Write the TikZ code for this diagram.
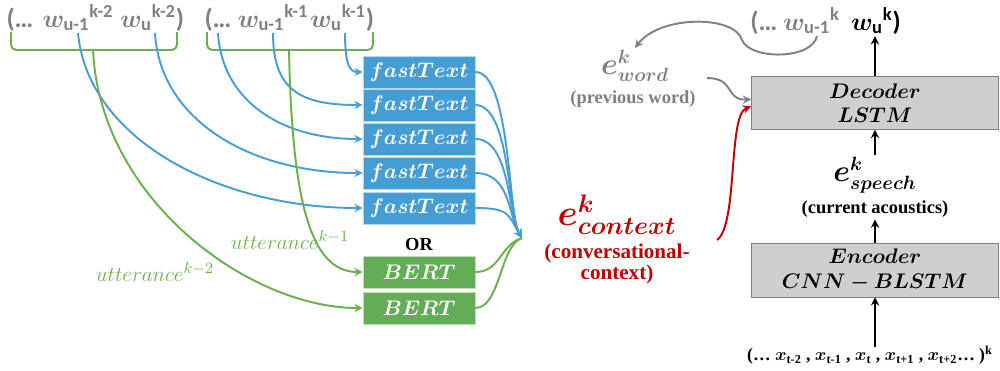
\documentclass[tikz,border=0pt]{standalone}
\usepackage{amsmath}
\usepackage{bm}
\usepackage{fontspec}
\setmainfont{Liberation Serif}
\newfontfamily\carlito{Carlito}
\usetikzlibrary{arrows, calc}
\definecolor{ftblue}{RGB}{68,157,211}
\definecolor{lineblue}{RGB}{72,158,212}
\definecolor{bertgreen}{RGB}{99,173,86}
\definecolor{linegreen}{RGB}{106,176,76}
\definecolor{wgray}{RGB}{128,128,128}
\definecolor{boxgray}{RGB}{208,206,206}
\definecolor{ctxred}{RGB}{192,0,0}
\newcommand{\wsub}[1]{\text{\carlito\bfseries #1}}
\newcommand{\wrd}[2]{$\bm{w}_{\wsub{#1}}{}^{\wsub{#2}}$}
\tikzset{>=stealth,
  wtok/.style={text=wgray, font=\fontsize{15}{18}\selectfont\carlito\bfseries, inner sep=1pt, anchor=base},
  ftbox/.style={draw=white!60!ftblue, fill=ftblue, text=white, minimum width=2.24cm, minimum height=0.64cm, font=\fontsize{12}{14}\selectfont},
  bertbox/.style={ftbox, draw=white!60!bertgreen, fill=bertgreen},
  nnbox/.style={draw=gray, fill=boxgray, minimum width=4.94cm, minimum height=1.06cm, align=center, font=\fontsize{12}{14}\selectfont},
  elab/.style={font=\fontsize{16}{18}\selectfont, inner sep=1pt},
  desc/.style={font=\fontsize{10.5}{12}\selectfont\bfseries, inner sep=1pt},
  utt/.style={text=linegreen, font=\fontsize{13}{15}\selectfont, inner sep=1pt},
  bluearc/.style={lineblue, line width=1.1pt},
  greenarc/.style={linegreen, line width=1.1pt},
  brk/.style={linegreen, line width=1.1pt, rounded corners=3pt},
  grayarc/.style={wgray, line width=1.1pt, ->},
  blackarr/.style={black, line width=1.1pt, ->}}
\begin{document}
\begin{tikzpicture}[x=0.02cm, y=-0.02cm]
\useasboundingbox (0,0) rectangle (1000,370);

% previous utterances
\node[wtok] (pa) at (20,27) {(…};
\node[wtok] (wa1) at (78,27) {\wrd{u-1}{k-2}};
\node[wtok] (wa2) at (148,27) {\wrd{u}{k-2}};
\node[wtok] (pa2) at (180,27) {)};
\node[wtok] (pb) at (218,27) {(…};
\node[wtok] (wb1) at (273,27) {\wrd{u-1}{k-1}};
\node[wtok] (wb2) at (338,27) {\wrd{u}{k-1}};
\node[wtok] (pb2) at (370,27) {)};

\draw[brk] (11,32) |- (177,50) -- (177,32);
\coordinate (utt2) at (93,50);
\draw[brk] (207,32) |- (373,50) -- (373,32);
\coordinate (utt1) at (289,50);

% embedders
\node[ftbox] (ft1) at (419,72) {$\bm{fastText}$};
\node[ftbox] (ft2) at (419,105) {$\bm{fastText}$};
\node[ftbox] (ft3) at (419,139) {$\bm{fastText}$};
\node[ftbox] (ft4) at (419,173) {$\bm{fastText}$};
\node[ftbox] (ft5) at (419,208) {$\bm{fastText}$};
\node[desc] (orlab) at (419,244) {OR};
\node[bertbox] (bert1) at (419,272) {$\bm{BERT}$};
\node[bertbox] (bert2) at (419,308) {$\bm{BERT}$};

\draw[bluearc,->] ($(wb2.south)+(7,0)$) .. controls (345,65) and (350,72) .. (ft1.west);
\draw[bluearc,->] (wb1.south) .. controls (273,90) and (300,105) .. (ft2.west);
\draw[bluearc,->] (pb.south) .. controls (222,100) and (280,139) .. (ft3.west);
\draw[bluearc,->] ($(wa2.south)+(7,0)$) .. controls (160,120) and (250,173) .. (ft4.west);
\draw[bluearc,->] (wa1.south) .. controls (88,140) and (220,208) .. (ft5.west);

\draw[greenarc,->] (utt1) .. controls (292,200) and (310,272) .. (bert1.west);
\draw[greenarc,->] (utt2) .. controls (100,200) and (250,308) .. (bert2.west);
\node[utt] (uttlab1) at (290,240) {$utterance^{k-1}$};
\node[utt] (uttlab2) at (155,272) {$utterance^{k-2}$};

\coordinate (merge) at (522,238);
\draw[greenarc] (bert1.east) .. controls +(25,0) and (500,245) .. (merge);
\draw[greenarc] (bert2.east) .. controls +(25,0) and (500,245) .. (merge);
\foreach \i in {1,...,5}
  \draw[bluearc,->] (ft\i.east) .. controls +(35,0) and (508,215) .. (merge);

% context embedding
\node[elab, text=ctxred, font=\fontsize{20}{22}\selectfont] (ectx) at (617,215) {$\bm{e}^{\bm{k}}_{\bm{context}}$};
\node[desc, text=ctxred, align=center, font=\fontsize{12}{10}\selectfont\bfseries] (ectxdesc) at (617,264) {(conversational-\\context)};
\coordinate (ctxout) at (717,240);

% decoder side
\node[nnbox] (dec) at (875,103) {$\bm{Decoder}$\\$\bm{LSTM}$};
\node[nnbox] (enc) at (875,270) {$\bm{Encoder}$\\$\bm{CNN-BLSTM}$};
\node[elab] (espeech) at (875,175) {$\bm{e}^{\bm{k}}_{\bm{speech}}$};
\node[desc] (espeechdesc) at (875,209) {(current acoustics)};
\node[desc, font=\fontsize{10}{12}\selectfont\bfseries] (inp) at (870,355) {(… $\bm{x}_{\text{t-2}}$ , $\bm{x}_{\text{t-1}}$ , $\bm{x}_{\text{t}}$ , $\bm{x}_{\text{t+1}}$ , $\bm{x}_{\text{t+2}}$… )$^{\text{k}}$};

\node[wtok] (outprev) at (795,30) {(… \wrd{u-1}{k}};
\node[wtok, text=black] (outcur) at (876,30) {\wrd{u}{k})};

\node[elab, text=wgray] (eword) at (635,66) {$\bm{e}^{\bm{k}}_{\bm{word}}$};
\node[desc, text=wgray] (eworddesc) at (633,99) {(previous word)};
\coordinate (wordout) at (707,78);

\draw[blackarr] (dec.north) -- (dec.north |- outcur.south);
\draw[blackarr] (espeech.north) -- (dec.south);
\draw[blackarr] (enc.north) -- (espeechdesc.south);
\draw[blackarr] ([yshift=-2pt]inp.north -| enc.south) -- (enc.south);

\draw[grayarc] ($(outprev.south)+(22,0)$) .. controls (812,60) and (750,60) .. (742,40) .. controls (735,15) and (660,15) .. (eword.north);
\draw[grayarc] (wordout) .. controls (735,78) and (725,100) .. ([yshift=2pt]dec.west);
\draw[ctxred, line width=1.1pt, ->] (ctxout) .. controls (738,225) and (728,115) .. ([yshift=-2pt]dec.west);
\end{tikzpicture}
\end{document}
